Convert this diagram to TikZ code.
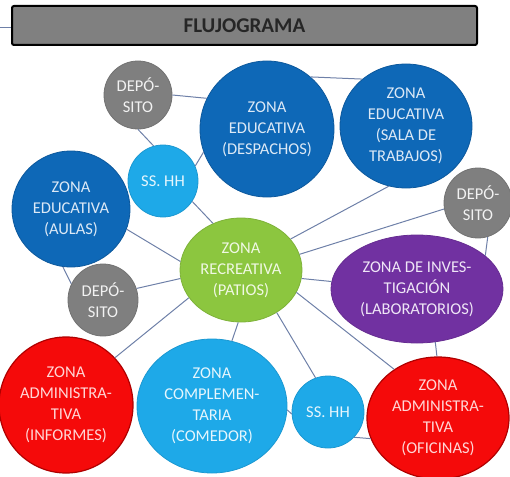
\documentclass[tikz,border=0pt]{standalone}
\usepackage{fontspec}
\setmainfont{Carlito}
\usetikzlibrary{shapes.geometric}
\definecolor{dblue}{HTML}{0E68B7}
\definecolor{dbluet}{HTML}{DCE9F6}
\definecolor{lblue}{HTML}{1EA9E8}
\definecolor{lbluet}{HTML}{E6F6FD}
\definecolor{grayc}{HTML}{7F7F7F}
\definecolor{grayt}{HTML}{F2F2F2}
\definecolor{greenc}{HTML}{8CC63F}
\definecolor{greent}{HTML}{F0F8E4}
\definecolor{purplec}{HTML}{7131A1}
\definecolor{purplet}{HTML}{EFE6F6}
\definecolor{redc}{HTML}{F50A0A}
\definecolor{redb}{HTML}{B00000}
\definecolor{redt}{HTML}{FFD6D6}
\definecolor{linkc}{HTML}{6E80A8}
\definecolor{titlec}{HTML}{808080}
\definecolor{titlet}{HTML}{262626}
\begin{document}
\begin{tikzpicture}[x=1pt,y=-1pt,
  zone/.style={ellipse, inner sep=0pt, align=center, line width=0.8pt,
    font=\fontsize{16.5}{21}\selectfont},
  dz/.style={zone, fill=dblue, draw=dblue!85!black, text=dbluet},
  lz/.style={zone, fill=lblue, draw=lblue!90!black, text=lbluet},
  gz/.style={zone, fill=grayc, draw=grayc!90!black, text=grayt},
  grz/.style={zone, fill=greenc, draw=greenc!90!black, text=greent},
  pz/.style={zone, fill=purplec, draw=purplec!90!black, text=purplet},
  rz/.style={zone, fill=redc, draw=redb, line width=1.2pt, text=redt},
  link/.style={draw=linkc, line width=1pt}]
\useasboundingbox (0,0) rectangle (510,476);

% title
\node[draw=black, line width=2pt, rounded corners=2pt, fill=titlec,
  minimum width=465pt, minimum height=39pt, inner sep=0pt,
  font=\fontsize{21}{24}\selectfont\bfseries, text=titlet] (title) at (244.5,25.5) {FLUJOGRAMA};
\coordinate (tl) at (0,28);
\draw[link] (tl) -- (title.west |- tl);

% zones
\node[gz, minimum width=68pt, minimum height=68pt] (dep1) at (138,95) {DEPÓ-\\SITO};
\node[dz, minimum width=134pt, minimum height=136pt] (desp) at (267,129) {ZONA\\EDUCATIVA\\(DESPACHOS)};
\node[dz, minimum width=132pt, minimum height=124pt] (sala) at (406,126) {ZONA\\EDUCATIVA\\(SALA DE\\TRABAJOS)};
\node[lz, minimum width=70pt, minimum height=72pt] (ss1) at (163,181) {SS. HH};
\node[dz, minimum width=118pt, minimum height=116pt] (aulas) at (71,209) {ZONA\\EDUCATIVA\\(AULAS)};
\node[grz, minimum width=122pt, minimum height=104pt] (rec) at (241,270) {ZONA\\RECREATIVA\\(PATIOS)};
\node[gz, minimum width=68pt, minimum height=70pt] (dep2) at (478,203) {DEPÓ-\\SITO};
\node[pz, minimum width=172pt, minimum height=108pt] (lab) at (417,289) {ZONA DE INVES-\\TIGACIÓN\\(LABORATORIOS)};
\node[gz, minimum width=70pt, minimum height=72pt] (dep3) at (103,300) {DEPÓ-\\SITO};
\node[rz, minimum width=134pt, minimum height=136pt] (info) at (66,405) {ZONA\\ADMINISTRA-\\TIVA\\(INFORMES)};
\node[lz, minimum width=150pt, minimum height=134pt] (com) at (212,406) {ZONA\\COMPLEMEN-\\TARIA\\(COMEDOR)};
\node[lz, minimum width=72pt, minimum height=72pt] (ss2) at (328,412) {SS. HH};
\node[rz, minimum width=142pt, minimum height=122pt] (ofic) at (438,418) {ZONA\\ADMINISTRA-\\TIVA\\(OFICINAS)};

% connectors
\draw[link] (dep1.0) -- (desp.153);
\draw[link] (dep1.270) -- (ss1.105);
\draw[link] (ss1.25) -- (desp.200);
\draw[link] (desp.50) -- (sala.133);
\draw[link] (ss1.-35) -- (rec.121);
\draw[link] (aulas.-20) -- (rec.172);
\draw[link] (aulas.-98) -- (dep3.153);
\draw[link] (dep3.19) -- (rec.188);
\draw[link] (info.44) -- (rec.208);
\draw[link] (rec.32) -- (sala.254);
\draw[link] (rec.15) -- (dep2.190);
\draw[link] (rec.-8) -- (lab.175);
\draw[link] (rec.-22) -- (ofic.132);
\draw[link] (rec.-50) -- (ss2.110);
\draw[link] (rec.-93) -- (com.73);
\draw[link] (dep2.-74) -- (lab.26);
\draw[link] (lab.-71) -- (ofic.91);
\draw[link] (com.-3) -- (ss2.183);
\draw[link] (ss2.-44) -- (ofic.197);
\end{tikzpicture}
\end{document}
